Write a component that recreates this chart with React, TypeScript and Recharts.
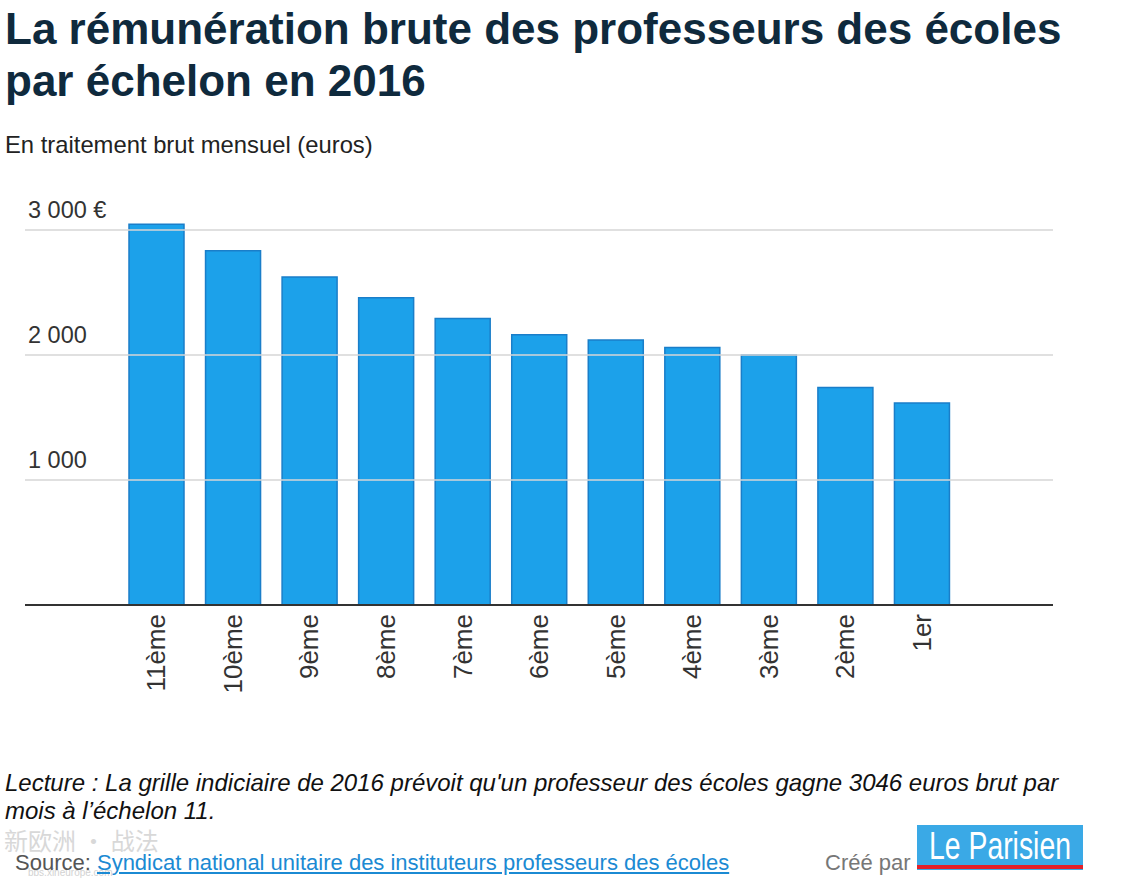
import { BarChart, Bar, XAxis, YAxis, ReferenceLine } from "recharts";

const echelons = ["11ème", "10ème", "9ème", "8ème", "7ème", "6ème", "5ème", "4ème", "3ème", "2ème", "1er"];
const salaires = [3046, 2834, 2625, 2459, 2292, 2162, 2121, 2060, 2000, 1741, 1616];
const yTicks = [1000, 2000, 3000];

const data = echelons.map((e, i) => ({ echelon: e, salaire: salaires[i] }));

const FONT = "'Liberation Sans', Arial, Helvetica, sans-serif";

const fmtY = (v: number) => {
  const s = v.toString().replace(/\B(?=(\d{3})+(?!\d))/g, " ");
  return v === 3000 ? s + " €" : s;
};

function YTick({ y, payload }: any) {
  return (
    <text x={28} y={y - 12} fontSize={23.5} fill="#333" fontFamily={FONT} textAnchor="start">
      {fmtY(payload.value)}
    </text>
  );
}

function XTick({ x, y, payload }: any) {
  return (
    <text
      transform={`translate(${x},${y + 1}) rotate(-90)`}
      textAnchor="end"
      dy="0.35em"
      fontSize={26}
      fill="#333"
      fontFamily={FONT}
    >
      {payload.value}
    </text>
  );
}

export default function App() {
  return (
    <div style={{ position: "absolute", left: 0, top: 0, width: 1137, height: 885, background: "#fff", fontFamily: FONT, overflow: "hidden" }}>
      {/* titre */}
      <div style={{ position: "absolute", left: 5, top: 3, fontSize: 44, fontWeight: 700, lineHeight: "52px", color: "#0f2a3d", whiteSpace: "nowrap" }}>
        La rémunération brute des professeurs des écoles
        <br />
        par échelon en 2016
      </div>
      <div style={{ position: "absolute", left: 5, top: 131, fontSize: 23.8, color: "#222", whiteSpace: "nowrap" }}>
        En traitement brut mensuel (euros)
      </div>

      {/* graphique */}
      <div style={{ position: "absolute", left: 0, top: 0 }}>
        <BarChart width={1137} height={720} data={data} margin={{ top: 205, right: 84, bottom: 0, left: 0 }}>
          <YAxis
            width={25}
            domain={[0, 3200]}
            ticks={yTicks}
            axisLine={false}
            tickLine={false}
            tick={<YTick />}
          />
          <XAxis
            dataKey="echelon"
            height={115}
            padding={{ left: 93, right: 93 }}
            axisLine={{ stroke: "#333", strokeWidth: 2 }}
            tickLine={false}
            interval={0}
            tick={<XTick />}
          />
          {yTicks.map((t) => (
            <ReferenceLine key={t} y={t} stroke="#d6d6d6" strokeWidth={1.5} />
          ))}
          <Bar dataKey="salaire" barSize={55} fill="#1ca1ea" stroke="#1a7ec9" strokeWidth={1.5} isAnimationActive={false} />
        </BarChart>
      </div>

      {/* note */}
      <div style={{ position: "absolute", left: 5, top: 769, fontSize: 24, fontStyle: "italic", color: "#111", lineHeight: "28px", whiteSpace: "nowrap" }}>
        Lecture : La grille indiciaire de 2016 prévoit qu'un professeur des écoles gagne 3046 euros brut par
        <br />
        mois à l’échelon 11.
      </div>

      {/* filigrane */}
      <div style={{ position: "absolute", left: 4, top: 822, fontSize: 24, color: "#d8d8d8", fontFamily: "'Noto Sans CJK SC', sans-serif", whiteSpace: "nowrap" }}>
        新欧洲 · 战法
      </div>
      <div style={{ position: "absolute", left: 28, top: 867, fontSize: 10, color: "#d2d2d2", whiteSpace: "nowrap" }}>bbs.xineurope.com</div>

      {/* source */}
      <div style={{ position: "absolute", left: 15, top: 850, fontSize: 22, color: "#555", whiteSpace: "nowrap" }}>
        Source:{" "}
        <span style={{ color: "#1b8ad3", textDecoration: "underline" }}>
          Syndicat national unitaire des instituteurs professeurs des écoles
        </span>
      </div>
      <div style={{ position: "absolute", left: 825, top: 850, fontSize: 22, color: "#777", whiteSpace: "nowrap" }}>Créé par</div>
      <svg style={{ position: "absolute", left: 917, top: 825 }} width={166} height={45}>
        <rect x={0} y={0} width={166} height={45} fill="#3aa9e6" />
        <text x={12} y={34} fontSize={38} fill="#fff" fontFamily={FONT} textLength={142} lengthAdjust="spacingAndGlyphs">
          Le Parisien
        </text>
        <rect x={0} y={40} width={166} height={4} fill="#e2202a" />
      </svg>
    </div>
  );
}
